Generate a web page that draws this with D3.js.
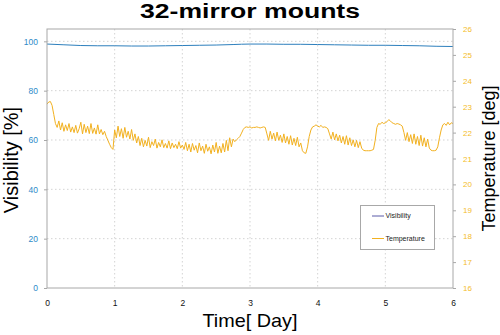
<!DOCTYPE html>
<html><head><meta charset="utf-8">
<script src="https://cdn.jsdelivr.net/npm/d3@7"></script>
<style>body{margin:0;background:#fff}svg{display:block;font-family:"Liberation Sans",Arial,sans-serif}</style>
</head><body><svg id="c" width="500" height="335"></svg>
<script>
const xTicks = [0,1,2,3,4,5,6];
const leftTicks = [0,20,40,60,80,100];
const rightTicks = [16,17,18,19,20,21,22,23,24,25,26];
const timeStepTemp = 0.025; // days between temperature samples
const temperature = [
23.10,23.18,23.20,23.05,22.70,22.35,22.20,
22.45,22.10,22.38,22.05,22.30,22.08,22.35,22.02,22.22,22.00,22.28,21.98,22.15,22.40,21.95,22.32,22.00,22.25,21.96,22.35,21.97,22.18,21.94,22.30,21.95,22.12,21.92,
22.05,21.85,21.70,21.55,21.42,21.35,
22.10,21.80,22.25,21.85,22.15,21.78,22.20,21.82,22.05,21.75,22.12,21.70,21.95,
21.60,21.85,21.50,21.78,21.45,21.70,21.48,21.82,21.42,21.65,21.50,21.75,21.40,21.62,21.45,21.72,21.42,21.58,21.40,21.68,21.38,21.60,21.42,21.55,21.38,21.65,21.40,21.52,
21.35,21.62,21.30,21.55,21.25,21.58,21.32,21.50,21.22,21.60,21.30,21.48,21.20,21.55,21.28,21.45,21.18,21.52,21.25,21.62,21.20,21.48,21.22,21.58,21.25,21.70,21.30,21.80,21.45,
21.75,21.65,21.72,21.78,21.85,21.98,22.12,22.20,22.22,22.20,
22.22,22.18,22.20,22.20,22.22,22.20,22.18,22.20,22.22,22.20,
21.95,21.70,22.05,21.75,21.98,21.68,22.02,21.70,21.90,21.62,21.95,21.60,21.85,21.55,21.88,21.52,21.78,21.50,21.82,21.45,
21.60,21.30,21.22,21.20,21.45,21.85,22.10,22.22,22.25,22.30,
22.25,22.22,22.28,22.20,22.22,22.20,22.15,21.95,
21.75,22.02,21.72,21.95,21.68,21.90,21.60,21.85,21.55,21.88,21.52,21.80,21.50,21.72,21.45,21.70,21.42,21.65,21.40,
21.32,21.30,21.30,21.30,21.30,21.32,21.35,
21.70,22.20,22.35,22.32,22.40,22.35,22.38,22.42,22.50,22.45,22.38,22.35,22.32,22.35,22.33,22.30,22.25,22.00,
21.70,22.00,21.65,21.92,21.58,21.95,21.55,21.85,21.50,21.90,21.48,21.80,21.45,21.75,21.40,
21.32,21.30,21.30,21.32,
21.45,21.80,22.10,22.30,22.35,22.28,22.40,22.30,22.38,22.35
];
const timeStepVis = 0.25;
const visibility = [98.9,98.6,98.3,98.2,98.2,98.1,98.1,98.2,98.3,98.4,98.5,98.7,98.9,98.9,98.8,98.8,98.7,98.6,98.5,98.4,98.4,98.3,98.2,98.0,97.9];

const svg = d3.select("#c");
const L = 47, R = 453, T = 29, B = 288;
const x = d3.scaleLinear().domain([0,6]).range([L,R]);
const yL = d3.scaleLinear().domain([0,105]).range([B,T]);
const yR = d3.scaleLinear().domain([16,26]).range([B,T]);

// grid
const g = svg.append("g");
g.selectAll("line.gx").data(xTicks.slice(1,-1)).join("line")
  .attr("x1",d=>x(d)).attr("x2",d=>x(d)).attr("y1",T).attr("y2",B)
  .attr("stroke","#c8c8c8").attr("stroke-width",0.8).attr("stroke-dasharray","1.5,2.5");
g.selectAll("line.gy").data(leftTicks.slice(1)).join("line")
  .attr("x1",L).attr("x2",R).attr("y1",d=>yL(d)).attr("y2",d=>yL(d))
  .attr("stroke","#c8c8c8").attr("stroke-width",0.8).attr("stroke-dasharray","1.5,2.5");

// lines
const tData = temperature.map((v,i)=>[i*timeStepTemp,v]);
const vData = visibility.map((v,i)=>[i*timeStepVis,v]);
svg.append("path").datum(tData)
  .attr("d",d3.line().x(d=>x(d[0])).y(d=>yR(d[1])))
  .attr("fill","none").attr("stroke","#f2b120").attr("stroke-width",1);
svg.append("path").datum(vData)
  .attr("d",d3.line().curve(d3.curveMonotoneX).x(d=>x(d[0])).y(d=>yL(d[1])))
  .attr("fill","none").attr("stroke","#2d7fbd").attr("stroke-width",1);

// frame
svg.append("rect").attr("x",L).attr("y",T).attr("width",R-L).attr("height",B-T)
  .attr("fill","none").attr("stroke","#a8a8a8").attr("stroke-width",1);

// axes
const ax = svg.append("g").attr("transform",`translate(0,${B})`)
  .call(d3.axisBottom(x).tickValues(xTicks).tickFormat(d3.format("d")).tickSize(0).tickPadding(12));
ax.select(".domain").remove();
ax.selectAll("text").attr("fill","#111").attr("font-size","8.5px").attr("font-family","Liberation Sans, Arial, sans-serif");

const al = svg.append("g").attr("transform",`translate(${L},0)`)
  .call(d3.axisLeft(yL).tickValues(leftTicks).tickFormat(d3.format("d")).tickSize(3).tickPadding(6));
al.select(".domain").remove();
al.selectAll("line").attr("stroke","#a8a8a8");
al.selectAll("text").attr("fill","#2e8bc9").attr("font-size","8.5px").attr("font-family","Liberation Sans, Arial, sans-serif");

const ar = svg.append("g").attr("transform",`translate(${R},0)`)
  .call(d3.axisRight(yR).tickValues(rightTicks).tickFormat(d3.format("d")).tickSize(3).tickPadding(7));
ar.select(".domain").remove();
ar.selectAll("line").attr("stroke","#a8a8a8");
ar.selectAll("text").attr("fill","#f4bd2a").attr("font-size","8px").attr("font-family","Liberation Sans, Arial, sans-serif");

// titles
svg.append("text").attr("x",250).attr("y",18).attr("text-anchor","middle")
  .attr("font-size","20px").attr("font-weight","bold").attr("fill","#000")
  .attr("textLength",220).attr("lengthAdjust","spacingAndGlyphs").text("32-mirror mounts");
svg.append("text").attr("x",250).attr("y",327).attr("text-anchor","middle")
  .attr("font-size","18.5px").attr("fill","#000")
  .attr("textLength",95).attr("lengthAdjust","spacingAndGlyphs").text("Time[ Day]");
svg.append("text").attr("transform","translate(18,160) rotate(-90)").attr("text-anchor","middle")
  .attr("font-size","20px").attr("fill","#000").text("Visibility [%]");
svg.append("text").attr("transform","translate(495,158.5) rotate(-90)").attr("text-anchor","middle")
  .attr("font-size","18px").attr("fill","#000").text("Temperature [deg]");

// legend
const lg = svg.append("g");
lg.append("rect").attr("x",360.5).attr("y",205.5).attr("width",74).attr("height",44)
  .attr("fill","#fff").attr("stroke","#a8a8a8").attr("stroke-width",1);
const legendItems = [["Visibility","#5a5aa8",216],["Temperature","#f2b120",238.5]];
legendItems.forEach(([name,col,yy])=>{
  lg.append("line").attr("x1",372).attr("x2",384).attr("y1",yy).attr("y2",yy).attr("stroke",col).attr("stroke-width",1);
  lg.append("text").attr("x",385.5).attr("y",yy+2.4).attr("font-size","7px").attr("fill","#222").text(name);
});
</script></body></html>
